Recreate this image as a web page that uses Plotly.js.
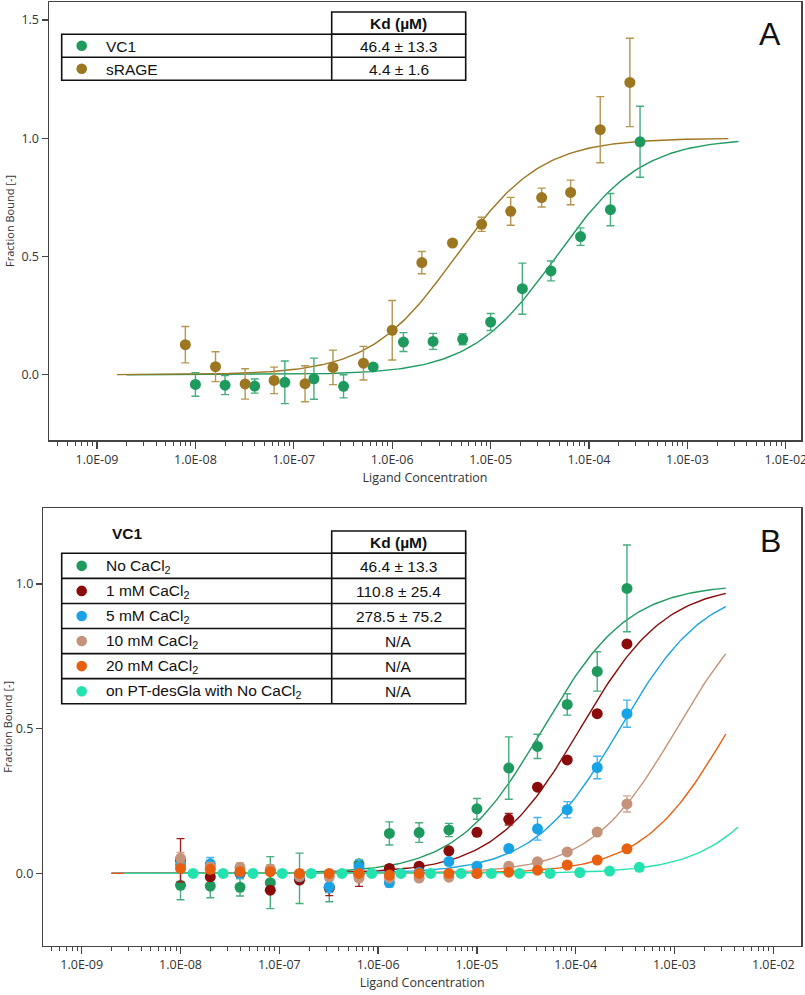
<!DOCTYPE html>
<html><head><meta charset="utf-8">
<script src="https://cdn.plot.ly/plotly-3.0.1.min.js"></script>
<style>html,body{margin:0;padding:0;background:#fff}</style>
</head><body>
<div id="chart" style="width:805px;height:995px"></div>
<script>
// ---------------- data ----------------
const xTickVals = [1e-9, 1e-8, 1e-7, 1e-6, 1e-5, 1e-4, 1e-3, 1e-2];
const xTickText = ['1.0E-09','1.0E-08','1.0E-07','1.0E-06','1.0E-05','1.0E-04','1.0E-03','1.0E-02'];

// VC1 (no CaCl2) concentrations [M]
const concVC1 = [1.0e-8, 2.0e-8, 4.0e-8, 8.1e-8, 1.6e-7, 3.2e-7, 6.4e-7, 1.3e-6, 2.6e-6, 5.2e-6, 1.0e-5, 2.1e-5, 4.1e-5, 8.2e-5, 1.65e-4, 3.3e-4];
const fbVC1   = [-0.041, -0.044, -0.048, -0.032, -0.017, -0.049, 0.033, 0.138, 0.141, 0.150, 0.223, 0.364, 0.439, 0.584, 0.698, 0.985];
const errVC1  = [0.050, 0.040, 0.030, 0.090, 0.087, 0.049, null, 0.040, 0.034, 0.023, 0.036, 0.108, 0.042, 0.037, 0.068, 0.150];

// sRAGE
const concSRAGE = [7.9e-9, 1.6e-8, 3.2e-8, 6.3e-8, 1.3e-7, 2.5e-7, 5.1e-7, 1.0e-6, 2.0e-6, 4.1e-6, 8.1e-6, 1.6e-5, 3.3e-5, 6.5e-5, 1.3e-4, 2.6e-4];
const fbSRAGE   = [0.127, 0.034, -0.039, -0.024, -0.038, 0.031, 0.049, 0.188, 0.474, 0.557, 0.636, 0.691, 0.749, 0.771, 1.036, 1.236];
const errSRAGE  = [0.077, 0.063, 0.064, 0.056, 0.076, 0.073, 0.071, 0.126, 0.047, null, 0.030, 0.059, 0.040, 0.052, 0.140, 0.187];

// VC1 with CaCl2 (same concentrations as concVC1)
const fb1mM   = [0.045, -0.012, 0.000, -0.058, -0.023, -0.050, -0.005, 0.017, 0.025, 0.078, 0.142, 0.187, 0.298, 0.392, 0.552, 0.793];
const err1mM  = [0.075, null, null, null, null, 0.027, 0.040, 0.012, null, null, null, 0.020, null, null, null, null];
const fb5mM   = [0.030, 0.033, 0.002, 0.010, -0.012, -0.046, 0.022, -0.032, 0.003, 0.041, 0.025, 0.086, 0.154, 0.220, 0.366, 0.552];
const err5mM  = [null, 0.022, 0.020, null, null, 0.020, 0.025, 0.015, null, null, null, null, 0.039, 0.028, 0.039, 0.047];
const fb10mM  = [0.052, 0.022, 0.021, 0.015, -0.010, -0.012, -0.016, -0.016, -0.016, -0.013, 0.000, 0.025, 0.040, 0.074, 0.143, 0.240];
const err10mM = [0.020, 0.015, 0.015, 0.015, null, null, null, null, null, null, null, null, 0.010, null, null, 0.028];
const fb20mM  = [0.017, 0.014, 0.006, 0.006, 0.000, 0.000, 0.000, -0.006, 0.000, 0.000, 0.000, 0.004, 0.011, 0.029, 0.046, 0.085];

// on PT-desGla, no CaCl2
const concDesGla = [1.34e-8, 2.7e-8, 5.4e-8, 1.07e-7, 2.1e-7, 4.3e-7, 8.6e-7, 1.7e-6, 3.4e-6, 6.9e-6, 1.4e-5, 2.7e-5, 5.5e-5, 1.1e-4, 2.2e-4, 4.4e-4];
const fbDesGla   = [0, 0, 0, 0, 0, 0, 0, 0, 0, 0, 0, 0, 0, 0.003, 0.008, 0.021];

// fitted dissociation constants [M] (last three estimated from the drawn fit curves)
const kdA = [46.4e-6, 4.4e-6];
const kdB = [46.4e-6, 110.8e-6, 278.5e-6, 1.05e-3, 3.55e-3, 2.3e-2];

// table texts
const tableLabelsA = ['VC1', 'sRAGE'];
const kdTextA = ['46.4 ± 13.3', '4.4 ± 1.6'];
const tableLabelsB = ['No CaCl<sub>2</sub>', '1 mM CaCl<sub>2</sub>', '5 mM CaCl<sub>2</sub>', '10 mM CaCl<sub>2</sub>', '20 mM CaCl<sub>2</sub>', 'on PT-desGla with No CaCl<sub>2</sub>'];
const kdTextB = ['46.4 ± 13.3', '110.8 ± 25.4', '278.5 ± 75.2', 'N/A', 'N/A', 'N/A'];

// ---------------- styles ----------------
const colors = {
  vc1: '#1e9a5f', srage: '#9c7620', red: '#8b0a0a', blue: '#17a3e6',
  tan: '#c4937a', orange: '#e8600f', teal: '#22e3b0'
};
const errColors = {
  vc1: '#47ad7d', srage: '#b5964f', red: '#9a2020', blue: '#45b4ea', tan: '#cfa690'
};
const W = 805, H = 995;
const px = v => v / W;
const py = v => 1 - v / H;

// fit curve (simple binding isotherm) from a Kd value
function fitCurve(kd, cStart, cEnd) {
  const xs = [], ys = [];
  const a = Math.log10(cStart), b = Math.log10(cEnd), n = 200;
  for (let i = 0; i <= n; i++) {
    const c = Math.pow(10, a + (b - a) * i / n);
    xs.push(c); ys.push(c / (c + kd));
  }
  return {xs, ys};
}

const traces = [];
function addCurve(kd, c0, c1, color, xa, ya) {
  const f = fitCurve(kd, c0, c1);
  traces.push({x: f.xs, y: f.ys, type: 'scatter', mode: 'lines', xaxis: xa, yaxis: ya,
    line: {color: color, width: 1.4}, hoverinfo: 'skip', showlegend: false});
}
function addPoints(xs, ys, err, color, ecolor, xa, ya) {
  const t = {x: xs, y: ys, type: 'scatter', mode: 'markers', xaxis: xa, yaxis: ya,
    marker: {color: color, size: 11, line: {width: 0}}, showlegend: false};
  if (err) t.error_y = {type: 'data', array: err, visible: true, color: ecolor, thickness: 1.4, width: 4};
  traces.push(t);
}

// Panel A
addCurve(kdA[0], 2.0e-9, 3.3e-3, colors.vc1, 'x', 'y');
addCurve(kdA[1], 1.6e-9, 2.6e-3, colors.srage, 'x', 'y');
addPoints(concVC1, fbVC1, errVC1, colors.vc1, errColors.vc1, 'x', 'y');
addPoints(concSRAGE, fbSRAGE, errSRAGE, colors.srage, errColors.srage, 'x', 'y');

// Panel B
addCurve(kdB[0], 2.0e-9, 3.3e-3, colors.vc1, 'x2', 'y2');
addCurve(kdB[1], 2.0e-9, 3.3e-3, colors.red, 'x2', 'y2');
addCurve(kdB[2], 2.0e-9, 3.3e-3, colors.blue, 'x2', 'y2');
addCurve(kdB[3], 2.0e-9, 3.3e-3, colors.tan, 'x2', 'y2');
addCurve(kdB[4], 2.0e-9, 3.3e-3, colors.orange, 'x2', 'y2');
addCurve(kdB[5], 2.7e-9, 4.4e-3, colors.teal, 'x2', 'y2');
addPoints(concVC1, fbVC1, errVC1, colors.vc1, errColors.vc1, 'x2', 'y2');
addPoints(concVC1, fb1mM, err1mM, colors.red, errColors.red, 'x2', 'y2');
addPoints(concVC1, fb5mM, err5mM, colors.blue, errColors.blue, 'x2', 'y2');
addPoints(concVC1, fb10mM, err10mM, colors.tan, errColors.tan, 'x2', 'y2');
addPoints(concVC1, fb20mM, null, colors.orange, null, 'x2', 'y2');
addPoints(concDesGla, fbDesGla, null, colors.teal, null, 'x2', 'y2');

// ---------------- axes ----------------
const tickFont = {family: 'Open Sans, sans-serif', size: 12.5, color: '#333'};
const titleFont = {family: 'Open Sans, sans-serif', size: 12.5, color: '#333'};
function xAxis(domain, range) {
  return {type: 'log', domain: domain, range: range, tickmode: 'array', tickvals: xTickVals, ticktext: xTickText,
    ticks: 'outside', ticklen: 7, tickwidth: 1.3, tickcolor: '#444', tickfont: tickFont, ticklabeloverflow: 'allow',
    minor: {ticks: 'outside', ticklen: 4, tickwidth: 1, tickcolor: '#444', dtick: 'D1', showgrid: false},
    showline: true, mirror: true, linecolor: '#444', linewidth: 1.5, showgrid: false, zeroline: false,
    title: {text: 'Ligand Concentration', font: titleFont, standoff: 6}, automargin: false};
}
function yAxis(domain, range, vals, anchor) {
  return {domain: domain, range: range, tickmode: 'array', tickvals: vals, tickformat: '.1f',
    ticks: 'outside', ticklen: 6, tickwidth: 1.3, tickcolor: '#444', tickfont: tickFont,
    showline: true, mirror: true, linecolor: '#444', linewidth: 1.5, showgrid: false, zeroline: false,
    anchor: anchor, title: {text: 'Fraction Bound [-]', font: {family: 'Open Sans, sans-serif', size: 11, color: '#333'}, standoff: 4},
    automargin: false};
}

// ---------------- tables (shapes + annotations) ----------------
const shapes = [], annotations = [];
const lineStyle = {color: '#111', width: 1.6};
function rect(x0, y0, x1, y1) {
  shapes.push({type: 'rect', xref: 'paper', yref: 'paper', x0: px(x0), x1: px(x1), y0: py(y1), y1: py(y0), line: lineStyle});
}
function hline(x0, x1, y) {
  shapes.push({type: 'line', xref: 'paper', yref: 'paper', x0: px(x0), x1: px(x1), y0: py(y), y1: py(y), line: lineStyle});
}
function vline(x, y0, y1) {
  shapes.push({type: 'line', xref: 'paper', yref: 'paper', x0: px(x), x1: px(x), y0: py(y0), y1: py(y1), line: lineStyle});
}
function dot(cx, cy, color) {
  const r = 5.3;
  shapes.push({type: 'circle', xref: 'paper', yref: 'paper', x0: px(cx - r), x1: px(cx + r), y0: py(cy + r), y1: py(cy - r),
    fillcolor: color, line: {width: 0}});
}
const tFont = {family: 'Arial, Liberation Sans, sans-serif', size: 15.5, color: '#111'};
function text(t, x, y, anchor, bold, size) {
  annotations.push({text: bold ? '<b>' + t + '</b>' : t, xref: 'paper', yref: 'paper', x: px(x), y: py(y),
    xanchor: anchor, yanchor: 'middle', showarrow: false,
    font: {family: tFont.family, color: tFont.color, size: size || tFont.size}});
}
function table(left, col, right, headTop, rowTop, rowH, labels, kds, dotColors) {
  rect(col, headTop, right, rowTop);
  text('Kd (µM)', (col + right) / 2, (headTop + rowTop) / 2 + 0.5, 'center', true);
  const bottom = rowTop + rowH * labels.length;
  rect(left, rowTop, right, bottom);
  vline(col, rowTop, bottom);
  for (let i = 0; i < labels.length; i++) {
    if (i > 0) hline(left, right, rowTop + rowH * i);
    const cy = rowTop + rowH * (i + 0.5);
    dot(81.7, cy, dotColors[i]);
    text(labels[i], 104, cy + 0.5, 'left', false);
    text(kds[i], (col + right) / 2, cy + 0.5, 'center', false);
  }
}
table(61.7, 331.7, 465.7, 12, 34.3, 23, tableLabelsA, kdTextA, [colors.vc1, colors.srage]);
table(61.7, 331.7, 465.7, 531, 553.3, 25.07, tableLabelsB, kdTextB,
  [colors.vc1, colors.red, colors.blue, colors.tan, colors.orange, colors.teal]);
text('VC1', 110, 533, 'left', true);
text('A', 770, 34, 'center', false, 32);
text('B', 770, 541, 'center', false, 32);

const layout = {
  width: W, height: H, margin: {l: 0, r: 0, t: 0, b: 0},
  paper_bgcolor: '#fff', plot_bgcolor: '#fff', showlegend: false,
  xaxis: Object.assign(xAxis([49 / W, 801 / W], [-9.488, -1.846]), {anchor: 'y'}),
  yaxis: yAxis([py(440), py(2)], [-0.276, 1.576], [0, 0.5, 1.0, 1.5], 'x'),
  xaxis2: Object.assign(xAxis([43.3 / W, 801 / W], [-9.389, -1.72]), {anchor: 'y2'}),
  yaxis2: yAxis([py(945.7), py(508)], [-0.250, 1.263], [0, 0.5, 1.0], 'x2'),
  shapes: shapes, annotations: annotations
};

Plotly.newPlot('chart', traces, layout, {staticPlot: true, displayModeBar: false});
</script>
</body></html>
